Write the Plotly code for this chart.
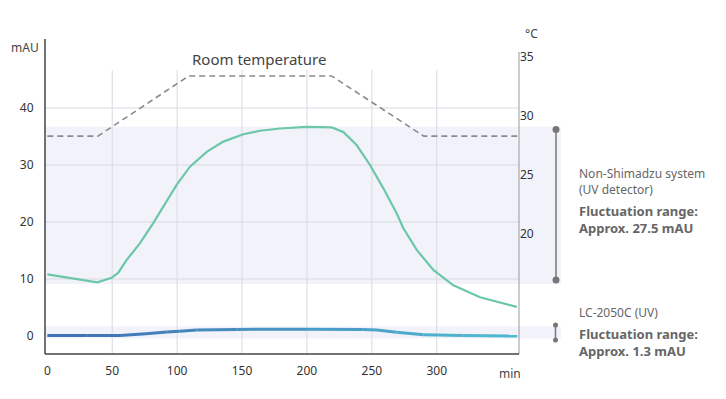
import plotly.graph_objects as go

# ---------------- data ----------------
green_t = [0, 38.5, 49.5, 54.7, 61, 71.4, 81.6, 91.9, 99.6, 109.9, 122.8, 135.6, 151, 163.8,
           179.2, 199.8, 219.1, 228, 238.3, 248.6, 258.9, 269.2, 274.3, 284.6, 297.4, 312.8, 333.4, 361.7]
green_v = [10.8, 9.4, 10.2, 11.1, 13.3, 16.3, 19.8, 23.6, 26.5, 29.7, 32.3, 34.1, 35.4, 36.0,
           36.4, 36.7, 36.6, 35.8, 33.5, 30.0, 25.9, 21.5, 18.9, 15.1, 11.6, 8.9, 6.8, 5.1]

blue_t = [0, 30, 56, 76, 92, 102, 115, 146, 200, 243, 254, 269, 290, 320, 362]
blue_v = [0.1, 0.1, 0.1, 0.4, 0.7, 0.85, 1.05, 1.15, 1.2, 1.15, 1.05, 0.65, 0.2, 0.1, 0.0]

temp_t = [0, 39, 109, 219, 290, 362]
temp_v = [28.3, 28.3, 33.4, 33.4, 28.3, 28.3]

x_ticks = [0, 50, 100, 150, 200, 250, 300]
y_ticks = [0, 10, 20, 30, 40]
y2_ticks = [20, 25, 30, 35]

# ---------------- layout helpers (page pixel coords) ----------------
OFF = 8  # default body margin of the html page
W, H = 726 - OFF, 399 - OFF
L, R, T, B = 45, 519, 39, 354


def px(x):
    return (x - L) / (R - L)


def py(y):
    return (B - y) / (B - T)


def lerp_color(c1, c2, f):
    a = [int(c1[i:i + 2], 16) for i in (1, 3, 5)]
    b = [int(c2[i:i + 2], 16) for i in (1, 3, 5)]
    return "#" + "".join(f"{round(a[k] + (b[k] - a[k]) * f):02x}" for k in range(3))


fig = go.Figure()

# temperature (right axis)
fig.add_trace(go.Scatter(x=temp_t, y=temp_v, yaxis="y2", mode="lines",
                         line=dict(color="#8a8a8e", width=1.6, dash="6px,4px"),
                         hoverinfo="skip", showlegend=False))

# non-Shimadzu
fig.add_trace(go.Scatter(x=green_t, y=green_v, mode="lines",
                         line=dict(color="#6cc7a8", width=2.2),
                         showlegend=False))

# LC-2050C gradient line
n = len(blue_t)
for i in range(n - 1):
    f = (blue_t[i] + blue_t[i + 1]) / 2 / blue_t[-1]
    fig.add_trace(go.Scatter(x=blue_t[i:i + 2], y=blue_v[i:i + 2], mode="lines",
                             line=dict(color=lerp_color("#3f6db5", "#50bcd0", f), width=3),
                             showlegend=False, hoverinfo="skip"))

shapes = []
# bands
shapes.append(dict(type="rect", xref="paper", yref="paper", x0=0, x1=px(561), y0=py(284), y1=py(126.7),
                   fillcolor="#f2f3fa", line=dict(width=0), layer="below"))
shapes.append(dict(type="rect", xref="paper", yref="paper", x0=0, x1=px(561), y0=py(338.5), y1=py(326.5),
                   fillcolor="#f2f3fa", line=dict(width=0), layer="below"))
# horizontal gridlines
for v in y_ticks[1:]:
    shapes.append(dict(type="line", xref="paper", yref="y", x0=0, x1=1, y0=v, y1=v,
                       line=dict(color="#d9d9e2", width=1), layer="below"))
# vertical gridlines
for v in x_ticks[1:]:
    shapes.append(dict(type="line", xref="x", yref="paper", x0=v, x1=v, y0=0, y1=py(70),
                       line=dict(color="#d9d9e2", width=1), layer="below"))
# right axis line
shapes.append(dict(type="line", xref="paper", yref="paper", x0=1, x1=1, y0=0, y1=py(52),
                   line=dict(color="#9a9a9a", width=1)))
# left axis line
shapes.append(dict(type="line", xref="paper", yref="paper", x0=0, x1=0, y0=0, y1=1,
                   line=dict(color="#444444", width=1.5)))
# bottom axis
shapes.append(dict(type="line", xref="paper", yref="paper", x0=0, x1=1, y0=0, y1=0,
                   line=dict(color="#444444", width=1.5)))
# brackets
shapes.append(dict(type="line", xref="paper", yref="paper", x0=px(556), x1=px(556), y0=py(280), y1=py(129.5),
                   line=dict(color="#777777", width=1.5)))
for yy in (129.5, 280):
    shapes.append(dict(type="circle", xref="paper", yref="paper", x0=px(552.5), x1=px(559.5),
                       y0=py(yy + 3.5), y1=py(yy - 3.5), fillcolor="#777777", line=dict(width=0)))
shapes.append(dict(type="line", xref="paper", yref="paper", x0=px(555.5), x1=px(555.5), y0=py(340), y1=py(325),
                   line=dict(color="#777777", width=1.5)))
for yy in (325, 340):
    shapes.append(dict(type="circle", xref="paper", yref="paper", x0=px(553), x1=px(558),
                       y0=py(yy + 2.5), y1=py(yy - 2.5), fillcolor="#777777", line=dict(width=0)))

FONT = "Noto Sans, Open Sans, sans-serif"
ann = []


def text(t, x, y, size=12, color="#555555", xanchor="left", bold=False):
    ann.append(dict(text=f"<b>{t}</b>" if bold else t, x=px(x), y=py(y), xref="paper", yref="paper",
                    showarrow=False, xanchor=xanchor, yanchor="middle",
                    font=dict(size=size, color=color, family=FONT)))


text("Room temperature", 259, 59, size=15, color="#444444", xanchor="center")
text("mAU", 25, 47, size=12, color="#444444", xanchor="center")
text("°C", 531, 33, size=12, color="#444444", xanchor="center")
text("min", 510, 373, size=12, color="#444444", xanchor="center")
text("Non-Shimadzu system", 577, 173, size=12, color="#666666")
text("(UV detector)", 577, 189, size=12, color="#666666")
text("Fluctuation range:", 577, 211, size=13, color="#666666", bold=True)
text("Approx. 27.5 mAU", 577, 228, size=13, color="#666666", bold=True)
text("LC-2050C (UV)", 577, 312, size=12, color="#666666")
text("Fluctuation range:", 577, 334, size=13, color="#666666", bold=True)
text("Approx. 1.3 mAU", 577, 351, size=13, color="#666666", bold=True)

fig.update_layout(
    width=W, height=H,
    margin=dict(l=L - OFF, r=W + OFF - R, t=T - OFF, b=H + OFF - B, pad=0),
    paper_bgcolor="white", plot_bgcolor="rgba(0,0,0,0)",
    font=dict(family=FONT, size=12, color="#333333"),
    xaxis=dict(range=[-1.8, 363.4], tickvals=x_ticks, showgrid=False, zeroline=False,
               showline=False, ticks="", ticklabelstandoff=8,
               tickfont=dict(size=12, color="#333333")),
    yaxis=dict(range=[-3.16, 52.1], tickvals=y_ticks, showgrid=False, zeroline=False,
               showline=False, ticks="outside", ticklen=8, tickcolor="rgba(0,0,0,0)",
               tickfont=dict(size=12, color="#333333")),
    yaxis2=dict(range=[9.83, 36.53], tickvals=y2_ticks, overlaying="y", side="right",
                showgrid=False, zeroline=False, showline=False, ticks="",
                tickfont=dict(size=12, color="#333333")),
    shapes=shapes, annotations=ann, showlegend=False,
)

fig.write_html("out.html")
